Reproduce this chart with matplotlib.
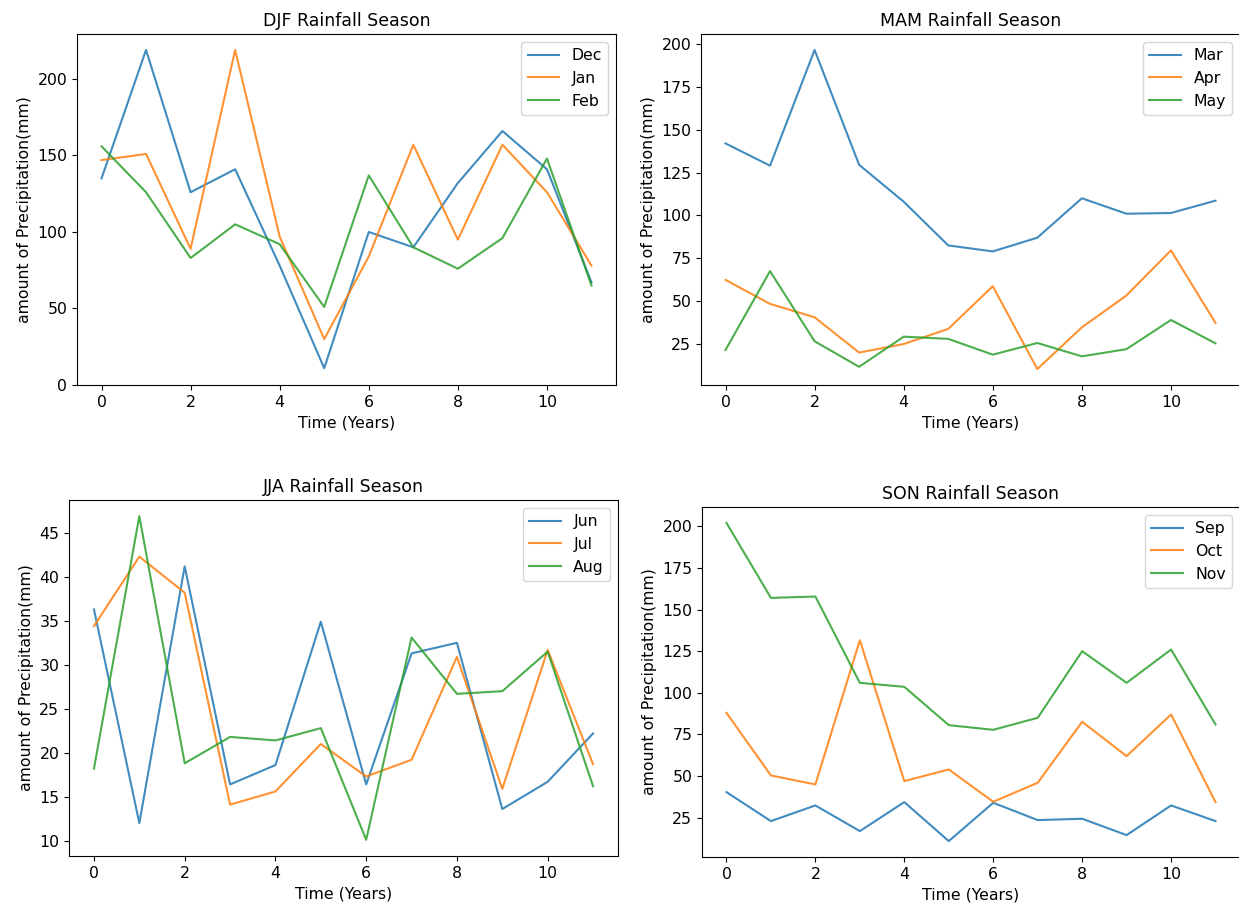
import matplotlib
matplotlib.use("Agg")
import matplotlib.pyplot as plt

years = list(range(12))

# DJF season
dec = [135, 219, 126, 141, 78, 11, 100, 90, 132, 166, 141, 67]
jan = [147, 151, 89, 219, 97, 30, 84, 157, 95, 157, 126, 78]
feb = [156, 126, 83, 105, 92, 51, 137, 90, 76, 96, 148, 65]

# MAM season
mar = [142, 129, 196.5, 129.5, 108, 82.5, 79, 87, 110, 101, 101.4, 108.6]
apr = [62.4, 48.4, 40.6, 20, 25, 33.8, 58.7, 10.4, 34.7, 53.3, 79.6, 37.3]
may = [21.5, 67.5, 26.6, 11.7, 29.3, 28, 18.8, 25.6, 17.8, 22, 39, 25.4]

# JJA season
jun = [36.3, 12, 41.2, 16.4, 18.6, 34.9, 16.4, 31.3, 32.5, 13.6, 16.7, 22.2]
jul = [34.4, 42.3, 38.2, 14.1, 15.6, 21, 17.3, 19.2, 30.9, 15.9, 31.7, 18.7]
aug = [18.2, 46.9, 18.8, 21.8, 21.4, 22.8, 10.1, 33.1, 26.7, 27, 31.5, 16.2]

# SON season
sep = [40.4, 23, 32.4, 17, 34.4, 11, 34, 23.6, 24.4, 14.6, 32.4, 23]
oct_ = [88, 50.4, 45, 131.6, 47, 54, 34.6, 46, 82.6, 62, 87, 34.4]
nov = [202, 157, 157.8, 106, 103.6, 80.6, 77.8, 85, 125, 106, 126, 81]

plt.rcParams["font.size"] = 11.3
plt.rcParams["axes.titlesize"] = 12.5

W, H = 1239, 910
fig = plt.figure(figsize=(W / 100, H / 100), dpi=100)


def box(left, top, right, bottom):
    return [left / W, 1 - bottom / H, (right - left) / W, (bottom - top) / H]


panels = [
    (box(77, 34, 616, 385), "DJF Rainfall Season", [dec, jan, feb], ["Dec", "Jan", "Feb"]),
    (box(701, 34, 1240, 385), "MAM Rainfall Season", [mar, apr, may], ["Mar", "Apr", "May"]),
    (box(69, 500, 618, 856), "JJA Rainfall Season", [jun, jul, aug], ["Jun", "Jul", "Aug"]),
    (box(702, 507, 1240, 857), "SON Rainfall Season", [sep, oct_, nov], ["Sep", "Oct", "Nov"]),
]

for rect, title, series, labels in panels:
    ax = fig.add_axes(rect)
    for vals, lab in zip(series, labels):
        ax.plot(years, vals, label=lab, alpha=0.85)
    ax.set_title(title)
    ax.set_xlabel("Time (Years)")
    ax.set_ylabel("amount of Precipitation(mm)")
    ax.legend(loc="upper right")

fig.axes[0].set_ylim(bottom=0)

fig.savefig("out.png", dpi=100)
